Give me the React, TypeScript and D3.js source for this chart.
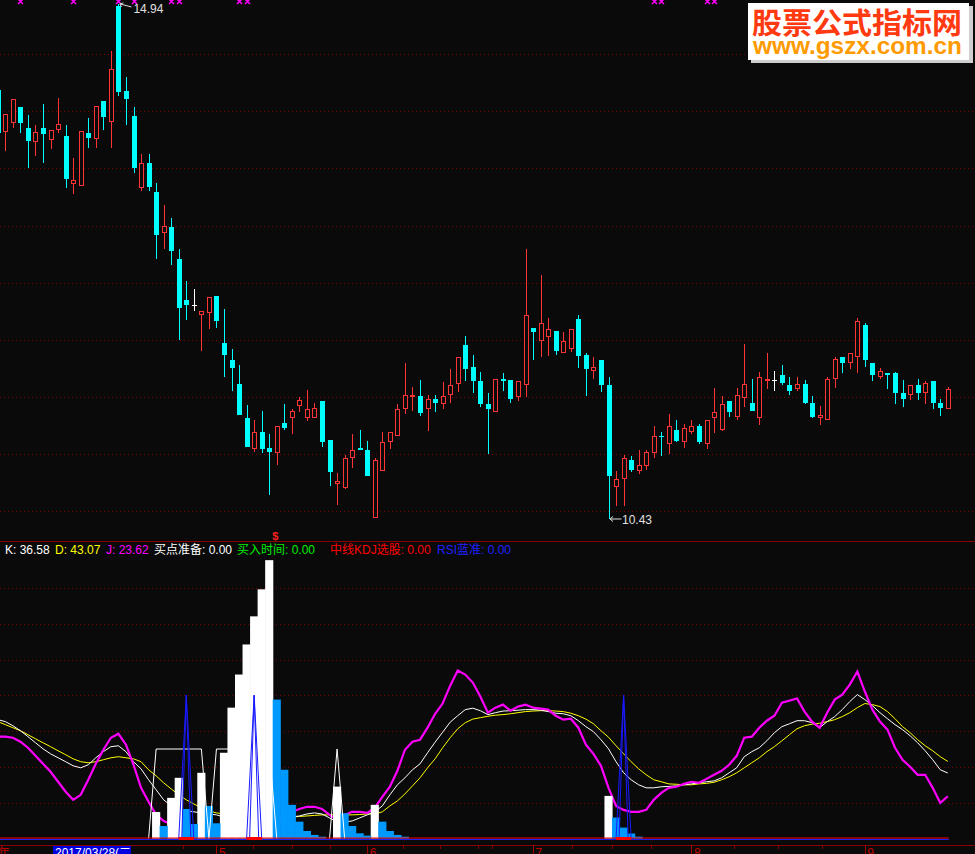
import React from "react";
import * as d3 from "d3";

// ---------- data ----------
const OPEN = [14.19,13.82,13.90,14.04,13.85,13.73,13.85,13.75,13.84,13.78,13.36,13.35,13.81,13.76,14.09,13.91,14.92,14.18,13.96,13.33,13.55,13.29,12.93,12.99,12.71,12.35,12.30,12.22,12.23,12.38,11.97,11.82,11.61,11.31,11.04,11.19,11.05,11.01,11.27,11.31,11.42,11.31,11.31,11.46,11.12,10.74,10.70,10.96,11.05,11.03,10.44,10.85,11.10,11.16,11.39,11.50,11.51,11.39,11.48,11.44,11.52,11.61,11.95,11.76,11.64,11.44,11.37,11.66,11.65,11.50,11.60,12.10,11.99,12.02,12.08,11.88,11.92,12.18,11.87,11.73,11.82,11.60,10.71,10.78,10.95,10.85,10.89,11.01,11.16,11.09,11.21,11.10,11.19,11.24,11.09,11.31,11.21,11.46,11.32,11.49,11.45,11.31,11.64,11.65,11.69,11.60,11.57,11.61,11.45,11.31,11.30,11.66,11.85,11.80,11.85,12.13,11.80,11.67,11.71,11.71,11.53,11.52,11.60,11.53,11.64,11.45,11.39];
const HIGH = [14.20,13.98,14.11,14.04,13.97,13.88,14.06,13.84,14.12,13.88,13.59,13.83,13.94,14.05,14.09,14.53,14.94,14.30,14.04,13.63,13.63,13.37,13.18,13.07,12.79,12.51,12.44,12.25,12.37,12.38,12.27,11.92,11.78,11.43,11.30,11.38,11.17,11.24,11.44,11.39,11.50,11.56,11.45,11.46,11.12,10.83,10.99,11.17,11.21,11.11,10.96,11.19,11.19,11.44,11.80,11.59,11.65,11.52,11.52,11.63,11.74,11.85,12.03,11.87,11.72,11.53,11.66,11.71,11.65,11.64,12.79,12.10,12.57,12.19,12.08,12.07,12.09,12.22,11.88,11.85,11.82,11.67,10.85,10.99,10.98,11.03,11.03,11.24,11.19,11.35,11.30,11.26,11.30,11.26,11.30,11.58,11.51,11.46,11.58,11.96,11.66,11.72,11.88,11.73,11.78,11.67,11.67,11.65,11.51,11.42,11.67,11.85,11.85,11.88,12.19,12.15,11.80,11.75,11.71,11.72,11.65,11.60,11.66,11.64,11.64,11.48,11.59];
const LOW = [13.79,13.65,13.85,13.81,13.50,13.61,13.55,13.67,13.81,13.33,13.28,13.35,13.68,13.68,13.84,13.68,14.13,13.88,13.46,13.30,13.30,12.71,12.79,12.65,12.00,12.17,12.25,11.90,12.09,12.10,11.67,11.55,11.34,11.06,11.02,11.01,10.64,10.90,11.21,11.17,11.37,11.29,11.31,11.06,10.72,10.55,10.69,10.88,11.03,10.81,10.44,10.85,11.04,11.16,11.35,11.38,11.33,11.20,11.37,11.39,11.45,11.54,11.64,11.53,11.41,11.00,11.37,11.55,11.45,11.46,11.50,11.82,11.85,11.86,11.87,11.88,11.89,11.75,11.51,11.66,11.54,10.43,10.54,10.54,10.84,10.82,10.86,10.96,10.98,11.00,11.10,11.05,11.17,11.09,11.04,11.18,11.20,11.32,11.30,11.41,11.38,11.25,11.57,11.55,11.60,11.52,11.55,11.44,11.31,11.25,11.30,11.58,11.71,11.74,11.71,11.76,11.64,11.66,11.57,11.44,11.41,11.47,11.47,11.44,11.39,11.33,11.39];
const CLOSE = [13.81,13.98,14.11,13.90,13.74,13.82,13.80,13.84,13.89,13.41,13.40,13.83,13.77,14.05,13.95,14.37,14.17,14.11,13.50,13.55,13.34,12.92,13.00,12.78,12.28,12.30,12.30,12.25,12.37,12.16,11.87,11.75,11.34,11.06,11.19,11.04,11.02,11.24,11.23,11.38,11.47,11.39,11.40,11.10,10.84,10.76,10.96,11.03,11.03,10.81,10.95,11.10,11.19,11.39,11.52,11.52,11.36,11.48,11.45,11.51,11.60,11.85,11.74,11.64,11.44,11.39,11.66,11.64,11.48,11.64,12.22,12.07,12.15,12.09,11.90,11.99,12.09,11.86,11.74,11.76,11.60,10.81,10.78,10.96,10.86,10.90,11.02,11.16,11.15,11.24,11.11,11.23,11.24,11.10,11.30,11.37,11.44,11.37,11.52,11.61,11.38,11.67,11.66,11.65,11.62,11.55,11.61,11.45,11.32,11.34,11.66,11.83,11.80,11.88,12.16,11.82,11.69,11.73,11.69,11.53,11.48,11.60,11.53,11.62,11.45,11.40,11.57];

const K_LINE = [66.4,65.3,63.0,60.2,56.9,53.5,50.1,47.3,45.1,42.9,40.6,39.5,41.2,45.1,48.5,51.3,51.8,48.5,42.9,38.9,32.8,27.2,21.6,18.2,16.0,15.4,14.9,14.3,13.7,13.2,12.0,11.5,11.5,10.9,10.9,10.9,10.9,10.9,11.5,12.0,12.6,13.7,14.3,13.7,11.5,9.2,9.2,9.8,11.5,13.2,14.9,18.2,24.4,30.0,33.9,38.4,41.7,47.9,53.8,59.4,65.0,68.6,72.0,72.8,71.4,69.2,70.3,71.2,71.4,71.7,72.0,72.0,71.7,70.9,70.0,69.7,68.6,65.8,62.5,59.7,55.2,50.1,42.9,36.7,32.8,30.0,28.3,28.3,28.9,29.1,29.4,30.0,30.5,31.1,31.7,32.2,33.9,36.7,39.5,45.7,48.5,50.7,54.6,59.1,62.5,64.1,65.8,65.8,64.7,61.9,65.3,68.1,72.0,76.5,80.4,77.6,74.2,70.3,66.9,63.6,60.8,57.4,53.5,49.0,44.0,38.4,36.58];
const D_LINE = [65.3,63.6,61.9,60.2,58.0,55.7,53.5,51.3,49.0,46.8,44.5,42.9,42.3,42.9,44.0,45.1,45.7,45.1,44.5,42.9,38.4,35.0,31.1,27.7,24.4,21.6,19.3,17.1,15.4,14.3,13.7,13.2,12.6,12.3,12.0,12.0,12.0,12.0,12.0,12.0,12.3,12.6,12.9,13.2,13.2,13.2,13.2,13.2,13.4,13.7,13.7,14.9,18.2,21.0,24.9,29.4,33.9,39.5,44.5,50.7,56.3,61.3,64.7,66.7,67.5,68.3,68.9,69.2,69.7,70.3,70.9,71.2,71.4,71.4,71.2,70.9,70.0,68.6,66.7,64.1,60.2,56.6,51.8,47.3,42.9,38.9,35.6,32.8,31.7,30.5,30.3,30.0,30.0,30.5,30.8,31.4,32.8,34.5,36.7,39.5,42.3,45.1,48.5,51.3,54.6,58.0,61.3,63.0,63.9,64.4,65.3,66.4,68.1,70.3,73.1,75.4,74.8,73.7,70.9,66.9,62.5,59.1,55.2,51.8,49.0,45.7,43.07];
const J_LINE = [56.9,56.9,56.3,54.1,50.7,46.2,41.7,37.3,31.7,26.1,21.6,24.4,32.8,41.7,49.6,56.3,58.5,52.4,41.2,28.3,20.5,13.2,9.8,8.1,7.0,5.9,4.8,4.8,4.8,4.8,4.8,4.8,4.8,4.8,4.8,4.8,4.8,7.0,10.9,14.9,16.5,17.7,17.7,16.5,13.2,10.4,13.2,14.9,14.9,14.3,17.1,23.3,28.9,37.8,49.6,54.1,55.2,61.9,69.7,75.4,85.4,93.8,91.6,87.1,79.3,70.3,73.1,74.8,71.4,73.7,74.8,73.1,72.6,72.0,68.6,66.4,66.9,61.9,52.4,47.3,40.6,28.3,18.2,16.0,14.9,14.9,16.0,21.6,25.5,28.3,28.9,30.5,31.7,31.1,33.3,35.6,37.8,41.2,46.2,56.3,56.9,61.9,65.8,68.6,75.9,77.0,78.2,70.9,65.3,61.9,70.3,77.6,80.4,86.0,93.3,82.1,72.0,65.3,60.8,50.7,44.0,40.1,35.6,35.6,28.3,19.9,23.62];

const PREP_BAR_IDX = [21,23,24,27,30,31,32,33,34,35,36,45,50,81];
const PREP_BAR_VAL = [14.8,22.7,33.9,36.7,47.9,73.1,91.6,108.4,124.1,139.2,155.5,29.0,18.8,23.8];
const BLUE_BAR_IDX = [22,25,26,28,29,37,38,39,40,41,42,43,46,47,48,49,51,52,53,54,82,83,84,85];
const BLUE_BAR_VAL = [7.0,16.5,8.1,18.2,8.5,77.6,38.4,18.8,9.4,4.2,2.0,1.0,14.1,7.0,2.9,1.6,9.4,4.2,2.0,1.0,11.7,6.1,2.8,1.0];
const STEP_IDX_A = [20,21,27,28,29,36,37];
const STEP_VAL_A = [0,50,50,0,50,50,0];
const STEP_IDX_B = [44,45,46];
const STEP_VAL_B = [0,50,0];
const SPIKE_IDX = [25,34,83];
const SPIKE_VAL = [80,80,80];
const SIGNAL_MARK_IDX = [3,10,16,18,23,24,32,33,87,88,94,95];
const MONTH_IDX = [29,49,71,92,115];
const MONTH_LABEL = ["5","6","7","8","9"];
const WEEK_TICK_IDX = [24.6,33.9,39,44,53.7,58.6,63.7,65.5,76.2,81.5,86.7,97.7,103.5,109.3];
const PRICE_GRID = [10.5,11,11.5,12,12.5,13,13.5,14,14.5];
const IND_GRID = [20,40,60,80,100,120,140];
const LEGEND_NAMES = ["K","D","J","买点准备","买入时间","中线KDJ选股","RSI蓝准"];
const LEGEND_EXTRA = [0,0,0,0];
const CURSOR_DATE = "2017/03/28(二";

// ---------- drawing ----------
const W = 975, H = 854;
const BG = "#0a0a0a";
const UP = "#ff3434";
const DOWN = "#00ffff";
const FONT = "'Liberation Sans', Arial, 'Noto Sans CJK SC', sans-serif";

export default function App() {
  const n = OPEN.length;
  const x = d3.scaleLinear().domain([0, n - 1]).range([-2.2, 947.8]);
  const yP = d3.scaleLinear().domain([10.5, 14.5]).range([511, 54.2]);
  const yI = d3.scaleLinear().domain([0, 100]).range([838.5, 659.5]);
  const step = x(1) - x(0);

  const lineGen = d3.line<number>().x((_, i) => x(i)).y((v) => yI(v));
  const ptLine = (idx: number[], val: number[]) =>
    d3.line<number>().x((_, k) => x(idx[k])).y((v) => yI(v))(val) || "";

  const hiIdx = d3.maxIndex(HIGH);
  const loIdx = d3.minIndex(LOW);

  const candles = OPEN.map((o, i) => {
    const c = CLOSE[i], h = HIGH[i], l = LOW[i];
    const px = Math.round(x(i));
    const cx = px + 0.5;
    const yH = Math.round(yP(h)), yL = Math.round(yP(l));
    const top = Math.round(yP(Math.max(o, c)));
    const bot = Math.round(yP(Math.min(o, c)));
    if (c > o) {
      return (
        <g key={i} stroke={UP} strokeWidth={1} fill={BG}>
          {yH < top && <line x1={cx} x2={cx} y1={yH} y2={top} />}
          {bot < yL && <line x1={cx} x2={cx} y1={bot} y2={yL} />}
          <rect x={px - 1.5} y={top + 0.5} width={4} height={Math.max(1, bot - top - 1)} />
        </g>
      );
    } else if (c < o) {
      return (
        <g key={i} fill={DOWN} stroke={DOWN} strokeWidth={1}>
          <line x1={cx} x2={cx} y1={yH} y2={yL} />
          <rect x={px - 2} y={top} width={5} height={Math.max(1, bot - top)} stroke="none" />
        </g>
      );
    }
    return (
      <g key={i} stroke="#ffffff" strokeWidth={1}>
        <line x1={cx} x2={cx} y1={yH} y2={yL} />
        <line x1={px - 2} x2={px + 3} y1={top + 0.5} y2={top + 0.5} />
      </g>
    );
  });

  const legendVals = [K_LINE[n - 1], D_LINE[n - 1], J_LINE[n - 1], ...LEGEND_EXTRA];
  const legendColors = ["#ffffff", "#ffff00", "#ff00ff", "#ffffff", "#00ee00", "#ff0000", "#2020ff"];
  const legendX = [5, 55, 106, 154, 237, 330, 437];

  const hx = x(hiIdx), hy = yP(HIGH[hiIdx]);
  const lx = x(loIdx), ly = yP(LOW[loIdx]);

  return (
    <div>
      <style>{`body{margin:0;background:${BG};}`}</style>
      <svg width={W} height={H} style={{ display: "block", background: BG }} fontFamily={FONT}>
        <rect x={0} y={0} width={W} height={H} fill={BG} />
        {/* price grid */}
        {PRICE_GRID.map((p) => (
          <line key={p} x1={0} x2={W} y1={Math.round(yP(p)) + 0.5} y2={Math.round(yP(p)) + 0.5}
            stroke="#7a0000" strokeDasharray="1 3" />
        ))}
        {/* candles */}
        {candles}
        {/* signal markers on top */}
        {SIGNAL_MARK_IDX.map((i, k) => {
          const cx = Math.round(x(i)) + 0.5;
          return (
            <path key={k} d={`M${cx - 2.5},-1L${cx + 2.5},4M${cx + 2.5},-1L${cx - 2.5},4`}
              stroke="#ff00ff" strokeWidth={1.5} fill="none" />
          );
        })}
        {/* high / low annotations */}
        <g stroke="#e0e0e0" strokeWidth={1} fill="none">
          <path d={`M${hx + 1.5},${hy}L${hx + 13},${hy + 3}M${hx + 1.5},${hy}L${hx + 5},${hy - 1}M${hx + 1.5},${hy}L${hx + 3},${hy + 3}`} />
          <path d={`M${lx + 1.5},${ly}L${lx + 13},${ly}M${lx + 1.5},${ly}L${lx + 4.5},${ly - 2.5}M${lx + 1.5},${ly}L${lx + 4.5},${ly + 2.5}`} />
        </g>
        <text x={hx + 15} y={hy + 9} fill="#e0e0e0" fontSize={12}>{HIGH[hiIdx].toFixed(2)}</text>
        <text x={lx + 13.5} y={ly + 5.5} fill="#e0e0e0" fontSize={12}>{LOW[loIdx].toFixed(2)}</text>

        {/* watermark */}
        <rect x={751} y={6} width={222} height={57} fill="#cfcfcf" />
        <rect x={748} y={3} width={221} height={57} fill="#ffffff" />
        <text x={752} y={34} fontSize={29} fontWeight="bold" fill="#ff3a10"
          fontFamily="'Noto Sans CJK SC', sans-serif" textLength={210} lengthAdjust="spacingAndGlyphs">股票公式指标网</text>
        <text x={753} y={54} fontSize={24} fontWeight="bold" fill="#ff9a00"
          textLength={209} lengthAdjust="spacingAndGlyphs">www.gszx.com.cn</text>

        {/* panel separator */}
        <line x1={0} x2={W} y1={541.5} y2={541.5} stroke="#8b0000" />
        <text x={x(36) + 6} y={540} fill="#ff2020" fontSize={11} fontWeight="bold" textAnchor="middle">$</text>

        {/* indicator grid */}
        {IND_GRID.map((v) => (
          <line key={v} x1={0} x2={W} y1={Math.round(yI(v)) + 0.5} y2={Math.round(yI(v)) + 0.5}
            stroke="#7a0000" strokeDasharray="1 3" />
        ))}

        {/* KDJ lines */}
        <path d={lineGen(D_LINE) || ""} fill="none" stroke="#ffff00" strokeWidth={1} />
        <path d={lineGen(K_LINE) || ""} fill="none" stroke="#ffffff" strokeWidth={1} />
        <path d={lineGen(J_LINE) || ""} fill="none" stroke="#ff00ff" strokeWidth={2.2} />

        {/* bars */}
        {PREP_BAR_IDX.map((i, k) => (
          <rect key={"w" + k} x={x(i) - step / 2 - 0.3} width={step + 0.6} y={yI(PREP_BAR_VAL[k])}
            height={yI(0) - yI(PREP_BAR_VAL[k])} fill="#ffffff" />
        ))}
        {BLUE_BAR_IDX.map((i, k) => (
          <rect key={"b" + k} x={x(i) - step / 2 - 0.3} width={step + 0.6} y={yI(BLUE_BAR_VAL[k])}
            height={yI(0) - yI(BLUE_BAR_VAL[k])} fill="#0099ff" />
        ))}

        {/* white step line */}
        <path d={ptLine(STEP_IDX_A, STEP_VAL_A)} fill="none" stroke="#ffffff" strokeWidth={1} />
        <path d={ptLine(STEP_IDX_B, STEP_VAL_B)} fill="none" stroke="#ffffff" strokeWidth={1} />

        {/* blue spikes */}
        {SPIKE_IDX.map((i, k) => (
          <g key={"s" + k} fill="none" stroke="#1a1aff" strokeWidth={1}>
            <path d={ptLine([i - 1, i, i + 1], [0, SPIKE_VAL[k], 0])} />
            <path d={ptLine([i - 0.6, i, i + 0.6], [0, SPIKE_VAL[k], 0])} />
          </g>
        ))}

        {/* baselines */}
        <line x1={0} x2={x(n - 1) + 1} y1={838} y2={838} stroke="#ff0000" />
        <line x1={0} x2={x(n - 1) + 1} y1={839.5} y2={839.5} stroke="#2020ff" />
        {SPIKE_IDX.map((i, k) => (
          <rect key={"r" + k} x={x(i - 1)} width={x(i + 1) - x(i - 1)} y={837} height={3} fill="#ff0000" />
        ))}

        {/* legend */}
        {LEGEND_NAMES.map((name, k) => (
          <text key={name} x={legendX[k]} y={553.5} fontSize={12} fill={legendColors[k]}>
            {`${name}: ${legendVals[k].toFixed(2)}`}
          </text>
        ))}

        {/* date axis */}
        <line x1={0} x2={W} y1={845.5} y2={845.5} stroke="#8b0000" />
        {WEEK_TICK_IDX.map((i, k) => (
          <line key={"t" + k} x1={Math.round(x(i)) + 0.5} x2={Math.round(x(i)) + 0.5} y1={845} y2={849} stroke="#8b0000" />
        ))}
        {MONTH_IDX.map((i, k) => (
          <g key={"m" + k}>
            <line x1={Math.round(x(i)) + 0.5} x2={Math.round(x(i)) + 0.5} y1={845} y2={854} stroke="#a00000" />
            <text x={x(i) + 2.5} y={856.5} fontSize={12} fill="#c00000">{MONTH_LABEL[k]}</text>
          </g>
        ))}
        <text x={-2} y={856.5} fontSize={12} fill="#c00000">年</text>
        <rect x={53} y={846} width={78} height={10} fill="#0000e0" />
        <text x={55} y={856.5} fontSize={12} fill="#ffffff">{CURSOR_DATE}</text>
      </svg>
    </div>
  );
}
